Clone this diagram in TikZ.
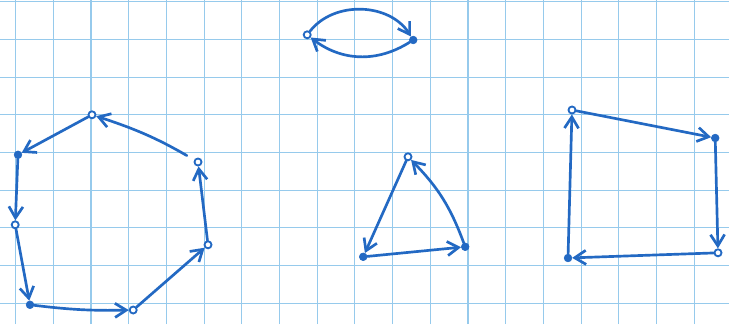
\documentclass[tikz,border=0pt]{standalone}
\usepackage{xcolor}
\definecolor{penBlue}{RGB}{35,105,195}
\definecolor{gridBlue}{RGB}{150,202,236}
\usepackage{tikz}
\usetikzlibrary{arrows.meta,positioning}
\tikzstyle{pen}=[-{Straight Barb[length=8pt,width=10pt]}, line width=1.9pt, color=penBlue, line cap=round, line join=round]
\tikzstyle{vert}=[circle, draw=penBlue, fill=white, line width=1.3pt, inner sep=0pt, minimum size=5pt]
\tikzstyle{vertfull}=[circle, draw=penBlue, fill=penBlue, inner sep=0pt, minimum size=5.5pt]
\tikzstyle{gridline}=[color=gridBlue, line width=0.8pt]

\begin{document}
\begin{tikzpicture}
    \useasboundingbox (0,0) rectangle (18.225,8.1);
    % --- papel quadriculado ---
    \fill[white] (0,0) rectangle (18.225,8.1);
    \foreach \k in {0,...,18} {
      \draw[gridline] (0.39+\k*0.9425, 0) -- (0.39+\k*0.9425, 8.1);
    }
    \foreach \k in {0,...,8} {
      \draw[gridline] (0, 8.058-\k*0.9425) -- (18.225, 8.058-\k*0.9425);
    }

    % --- ciclo de comprimento 2 ---
    \node[vert]     (c2a) at (7.68, 7.23) {};
    \node[vertfull] (c2b) at (10.33, 7.10) {};
    \draw[pen] (c2a) to[bend left=55] (c2b);
    \draw[pen] (c2b) to[bend left=35] (c2a);

    % --- ciclo de comprimento 7 ---
    \node[vert]     (h1) at (2.30, 5.23) {};
    \node[vertfull] (h2) at (0.45, 4.23) {};
    \node[vert]     (h3) at (0.38, 2.48) {};
    \node[vertfull] (h4) at (0.75, 0.48) {};
    \node[vert]     (h5) at (3.33, 0.35) {};
    \node[vert]     (h6) at (5.20, 1.98) {};
    \node[vert]     (h7) at (4.95, 4.05) {};
    \foreach \a/\b in {h1/h2,h2/h3,h3/h4,h5/h6,h6/h7} {
      \draw[pen] (\a) -- (\b);
    }
    \draw[pen] (h4) to[bend right=4] (h5);
    \draw[pen, shorten <=6pt] (h7) to[bend right=6] (h1);

    % --- ciclo de comprimento 3 ---
    \node[vert]     (t1) at (10.20, 4.18) {};
    \node[vertfull] (t2) at (9.08, 1.68) {};
    \node[vertfull] (t3) at (11.63, 1.93) {};
    \draw[pen] (t1) -- (t2);
    \draw[pen] (t2) -- (t3);
    \draw[pen] (t3) to[bend right=12] (t1);

    % --- ciclo de comprimento 4 ---
    \node[vert]     (s1) at (14.30, 5.35) {};
    \node[vertfull] (s2) at (17.88, 4.65) {};
    \node[vert]     (s3) at (17.95, 1.78) {};
    \node[vertfull] (s4) at (14.20, 1.65) {};
    \foreach \a/\b in {s1/s2,s2/s3,s3/s4,s4/s1} {
      \draw[pen] (\a) -- (\b);
    }
  \end{tikzpicture}
\end{document}
